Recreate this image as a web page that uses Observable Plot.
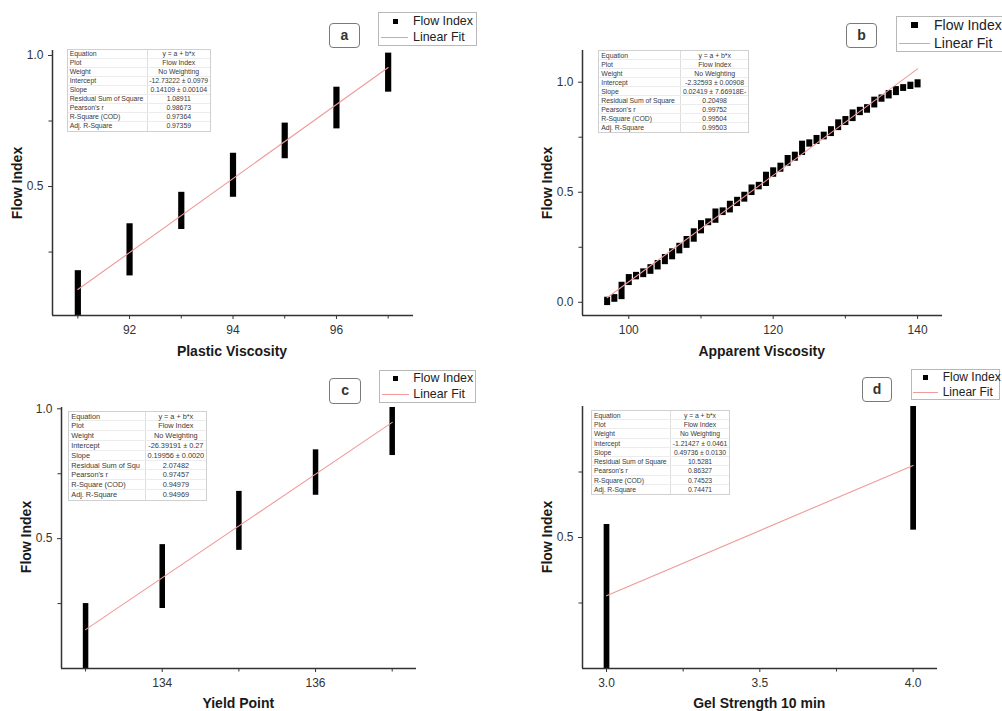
<!DOCTYPE html>
<html><head><meta charset="utf-8">
<script src="https://cdn.jsdelivr.net/npm/d3@7"></script>
<script src="https://cdn.jsdelivr.net/npm/@observablehq/plot@0.6"></script>
<style>
body{margin:0;background:#fff;font-family:"Liberation Sans",Arial,sans-serif;}
#root{position:relative;width:1002px;height:711px;overflow:hidden;background:#fff;}
#root svg{position:absolute;}
</style></head>
<body><div id="root"></div>
<script>
// ---------- DATA ----------
const legendLabels = ["Flow Index", "Linear Fit"];
const yTitle = "Flow Index";
const xTitles = ["Plastic Viscosity", "Apparent Viscosity", "Yield Point", "Gel Strength 10 min"];
const tags = ["a", "b", "c", "d"];
const statNames = ["Equation","Plot","Weight","Intercept","Slope","Residual Sum of Square","Pearson's r","R-Square (COD)","Adj. R-Square"];
const statNamesShort = ["Equation","Plot","Weight","Intercept","Slope","Residual Sum of Squ","Pearson's r","R-Square (COD)","Adj. R-Square"];

// (a) Plastic Viscosity
const pvX  = [91, 92, 93, 94, 95, 96, 97];
const pvLo = [0.0, 0.159, 0.336, 0.459, 0.606, 0.720, 0.860];
const pvHi = [0.179, 0.358, 0.478, 0.627, 0.742, 0.879, 1.009];
const pvFitX = [91, 97];
const pvFitY = [0.107, 0.954];
const pvStats = ["y = a + b*x","Flow Index","No Weighting","-12.73222 ± 0.0979","0.14109 ± 0.00104","1.08911","0.98673","0.97364","0.97359"];
const pvXMajor = [92, 94, 96], pvXMinor = [91, 93, 95, 97];
const pvYMajor = [0.5, 1.0], pvYMinor = [0.25, 0.75];

// (b) Apparent Viscosity
const avX  = [97,98,99,100,101,102,103,104,105,106,107,108,109,110,111,112,113,114,115,116,117,118,119,120,121,122,123,124,125,126,127,128,129,130,131,132,133,134,135,136,137,138,139,140];
const avLo = [-0.015,0.0,0.012,0.076,0.102,0.112,0.127,0.147,0.171,0.193,0.220,0.245,0.273,0.311,0.348,0.359,0.394,0.406,0.435,0.455,0.485,0.511,0.526,0.568,0.591,0.618,0.641,0.667,0.705,0.717,0.738,0.753,0.780,0.803,0.821,0.848,0.859,0.883,0.909,0.924,0.939,0.958,0.967,0.974];
const avHi = [0.023,0.035,0.091,0.126,0.136,0.152,0.171,0.190,0.217,0.243,0.268,0.299,0.334,0.371,0.379,0.424,0.429,0.459,0.477,0.500,0.533,0.545,0.591,0.611,0.632,0.667,0.682,0.732,0.738,0.758,0.773,0.798,0.829,0.844,0.874,0.886,0.898,0.932,0.942,0.962,0.980,0.989,1.000,1.011];
const avFitX = [97, 140];
const avFitY = [0.0205, 1.0607];
const avStats = ["y = a + b*x","Flow Index","No Weighting","-2.32593 ± 0.00908","0.02419 ± 7.66918E-","0.20498","0.99752","0.99504","0.99503"];
const avXMajor = [100, 120, 140], avXMinor = [110, 130];
const avYMajor = [0.0, 0.5, 1.0], avYMinor = [0.25, 0.75];

// (c) Yield Point
const ypX  = [133, 134, 135, 136, 137];
const ypLo = [0.0, 0.231, 0.455, 0.667, 0.820];
const ypHi = [0.250, 0.477, 0.682, 0.842, 1.009];
const ypFitX = [133, 137];
const ypFitY = [0.1496, 0.9478];
const ypStats = ["y = a + b*x","Flow Index","No Weighting","-26.39191 ± 0.27","0.19956 ± 0.0020","2.07482","0.97457","0.94979","0.94969"];
const ypXMajor = [134, 136], ypXMinor = [133, 135, 137];
const ypYMajor = [0.5, 1.0], ypYMinor = [0.25, 0.75];

// (d) Gel Strength 10 min
const gsX  = [3.0, 4.0];
const gsLo = [0.0, 0.528];
const gsHi = [0.550, 1.0];
const gsFitX = [3.0, 4.0];
const gsFitY = [0.2778, 0.7752];
const gsStats = ["y = a + b*x","Flow Index","No Weighting","-1.21427 ± 0.0461","0.49736 ± 0.0130","10.5281","0.86327","0.74523","0.74471"];
const gsXMajor = [3.0, 3.5, 4.0], gsXMinor = [3.25, 3.75];
const gsYMajor = [0.5], gsYMinor = [0.25, 0.75];

// ---------- LAYOUT ----------
const root = document.getElementById("root");
function el(css, html) {
  const d = document.createElement("div");
  d.style.cssText = "position:absolute;" + css;
  if (html != null) d.textContent = html;
  root.appendChild(d);
  return d;
}
const FIT_COLOR = "#f09a9a";
const AXIS_COLOR = "#333";

const panels = [
  {left:0, top:0, w:500, h:345, frame:[52,50,413,315], xd:[90.51,97.49], yd:[0.008,1.019],
   X:pvX, lo:pvLo, hi:pvHi, fx:pvFitX, fy:pvFitY, xMaj:pvXMajor, xMin:pvXMinor, yMaj:pvYMajor, yMin:pvYMinor,
   xFmt:d3.format("d"), bw:6.2, stats:pvStats, names:statNames,
   table:{x:66.7, y:49.3, w:144, h:82.4, c1:80, fs:6.9},
   tag:[329,22.7,360,47.7], leg:{x0:378,y0:11.7,x1:477,y1:45.7,mx:395,ms:5,r1:21,r2:36.7,l0:381,l1:408,tx:413,fs:12.4},
   xl:[232,351], yl:[17,183]},
  {left:500, top:0, w:500, h:345, frame:[582,50,942,315], xd:[93.59,143.45], yd:[-0.060,1.144],
   X:avX, lo:avLo, hi:avHi, fx:avFitX, fy:avFitY, xMaj:avXMajor, xMin:avXMinor, yMaj:avYMajor, yMin:avYMinor,
   xFmt:d3.format("d"), bw:6, stats:avStats, names:statNames,
   table:{x:598.3, y:50, w:151, h:83.3, c1:81.7, fs:6.9},
   tag:[845.7,22.7,877.3,48.3], leg:{x0:896,y0:15.7,x1:1010,y1:52.3,mx:914.3,ms:6.5,r1:25,r2:42.7,l0:899,l1:930,tx:934,fs:14},
   xl:[761.7,351], yl:[546.7,183]},
  {left:0, top:355, w:500, h:350, frame:[61,407,416,668], xd:[132.686,137.317], yd:[0.0,1.005],
   X:ypX, lo:ypLo, hi:ypHi, fx:ypFitX, fy:ypFitY, xMaj:ypXMajor, xMin:ypXMinor, yMaj:ypYMajor, yMin:ypYMinor,
   xFmt:d3.format("d"), bw:5.5, stats:ypStats, names:statNamesShort,
   table:{x:68.3, y:410.7, w:138.4, h:90, c1:76.7, fs:7.4},
   tag:[329.3,378.3,361,404], leg:{x0:379.3,y0:370,x1:476,y1:403.3,mx:395.7,ms:5,r1:378.3,r2:394.3,l0:381.7,l1:409.3,tx:413.3,fs:12.4},
   xl:[238.3,703], yl:[25.5,537]},
  {left:500, top:355, w:500, h:350, frame:[582,406,937,668], xd:[2.9217,4.0795], yd:[0.0,1.0],
   X:gsX, lo:gsLo, hi:gsHi, fx:gsFitX, fy:gsFitY, xMaj:gsXMajor, xMin:gsXMinor, yMaj:gsYMajor, yMin:gsYMinor,
   xFmt:d3.format(".1f"), bw:5.7, stats:gsStats, names:statNames,
   table:{x:591, y:410, w:139, h:85, c1:79, fs:6.8},
   tag:[861.7,376.7,892.3,402], leg:{x0:911,y0:369,x1:1000,y1:400,mx:925.7,ms:5,r1:377.3,r2:392,l0:912.7,l1:938.3,tx:942.7,fs:12},
   xl:[759.3,703], yl:[546.7,537]}
];

panels.forEach((P, k) => {
  const [fx0, fy0, fx1, fy1] = P.frame;
  const bars = P.X.map((x, i) => ({x, lo: P.lo[i], hi: P.hi[i]}));
  const fit = P.fx.map((x, i) => ({x, y: P.fy[i]}));
  const svg = Plot.plot({
    width: P.w, height: P.h,
    marginLeft: fx0 - P.left, marginTop: fy0 - P.top,
    marginRight: P.left + P.w - fx1, marginBottom: P.top + P.h - fy1,
    style: {background: "transparent", overflow: "visible", fontFamily: "Liberation Sans, Arial, sans-serif", fontSize: "12px", color: AXIS_COLOR},
    x: {domain: P.xd},
    y: {domain: P.yd},
    marks: [
      Plot.ruleX(bars, {x: "x", y1: "lo", y2: "hi", stroke: "#000", strokeWidth: P.bw, clip: true}),
      Plot.line(fit, {x: "x", y: "y", stroke: FIT_COLOR, strokeWidth: 1.1}),
      Plot.ruleY([P.yd[0]], {stroke: AXIS_COLOR, strokeWidth: 1.5}),
      Plot.ruleX([P.xd[0]], {stroke: AXIS_COLOR, strokeWidth: 1.5}),
      Plot.axisX({ticks: P.xMaj, tickFormat: P.xFmt, tickSize: 4, tickPadding: 6, label: null}),
      Plot.axisX({ticks: P.xMin, tickFormat: () => "", tickSize: 3.5, label: null}),
      Plot.axisY({ticks: P.yMaj, tickFormat: d3.format(".1f"), tickSize: 4, tickPadding: 5, label: null}),
      Plot.axisY({ticks: P.yMin, tickFormat: () => "", tickSize: 3.5, label: null})
    ]
  });
  svg.style.left = P.left + "px";
  svg.style.top = P.top + "px";
  root.appendChild(svg);
});

panels.forEach((P, k) => {
  // axis titles
  el(`left:${P.xl[0]}px;top:${P.xl[1]}px;transform:translate(-50%,-50%);font-weight:bold;font-size:14px;color:#1a1a1a;white-space:nowrap;line-height:16px;`, xTitles[k]);
  el(`left:${P.yl[0]}px;top:${P.yl[1]}px;transform:translate(-50%,-50%) rotate(-90deg);font-weight:bold;font-size:14px;color:#1a1a1a;white-space:nowrap;line-height:16px;`, yTitle);
  // tag box
  const [t0, t1, t2, t3] = P.tag;
  el(`left:${t0}px;top:${t1}px;width:${t2 - t0}px;height:${t3 - t1}px;box-sizing:border-box;border:1px solid #7a7a7a;border-radius:4px;background:#fff;font-weight:bold;font-size:14px;color:#333;text-align:center;line-height:${t3 - t1 - 2}px;`, tags[k]);
  // legend
  const L = P.leg;
  el(`left:${L.x0}px;top:${L.y0}px;width:${L.x1 - L.x0}px;height:${L.y1 - L.y0}px;box-sizing:border-box;border:1px solid #b8b8b8;background:#fff;`);
  el(`left:${L.mx - L.ms / 2}px;top:${L.r1 - L.ms / 2}px;width:${L.ms}px;height:${L.ms}px;background:#000;`);
  el(`left:${L.l0}px;top:${L.r2}px;width:${L.l1 - L.l0}px;height:1px;background:${FIT_COLOR};`);
  el(`left:${L.tx}px;top:${L.r1 - 10}px;height:20px;line-height:20px;font-size:${L.fs}px;color:#222;white-space:nowrap;`, legendLabels[0]);
  el(`left:${L.tx}px;top:${L.r2 - 10}px;height:20px;line-height:20px;font-size:${L.fs}px;color:#222;white-space:nowrap;`, legendLabels[1]);
  // stats table
  const T = P.table;
  const box = el(`left:${T.x}px;top:${T.y}px;width:${T.w}px;height:${T.h}px;box-sizing:border-box;border:1px solid #d0d0d0;background:#fff;font-size:${T.fs}px;color:#3a3a3a;letter-spacing:-0.05px;`);
  const rh = (T.h - 2) / P.names.length;
  P.names.forEach((name, i) => {
    const row = document.createElement("div");
    row.style.cssText = `position:absolute;left:0;top:${i * rh}px;width:${T.w - 2}px;height:${rh}px;line-height:${rh}px;` + (i < P.names.length - 1 ? "border-bottom:1px solid #ececec;box-sizing:border-box;" : "");
    const c1 = document.createElement("div");
    c1.style.cssText = `position:absolute;left:0;top:0;width:${T.c1}px;height:100%;padding-left:2px;box-sizing:border-box;white-space:nowrap;border-right:1px solid #dedede;`;
    c1.textContent = name;
    const c2 = document.createElement("div");
    c2.style.cssText = `position:absolute;left:${T.c1}px;top:0;width:${T.w - 2 - T.c1}px;height:100%;white-space:nowrap;text-align:center;`;
    c2.textContent = P.stats[i];
    row.appendChild(c1); row.appendChild(c2);
    box.appendChild(row);
  });
});
</script>
</body></html>
